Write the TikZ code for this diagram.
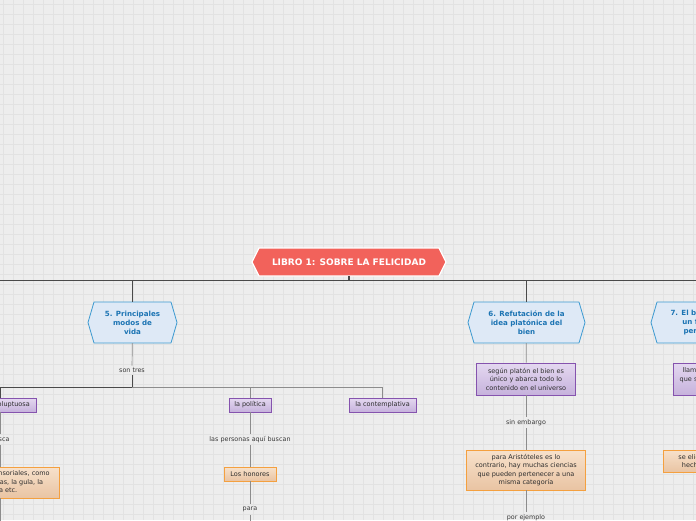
\documentclass[tikz,border=0pt]{standalone}
\usepackage{fontspec}
\setmainfont{DejaVu Sans}
\definecolor{bgc}{HTML}{EDEDED}
\definecolor{gridc}{HTML}{E2E2E2}
\definecolor{rootred}{HTML}{F2625B}
\definecolor{hexfill}{HTML}{DEE9F6}
\definecolor{hexborder}{HTML}{3D9AD1}
\definecolor{hextext}{HTML}{1C74B3}
\definecolor{purpletop}{HTML}{E4D8F0}
\definecolor{purplebot}{HTML}{C6B2DC}
\definecolor{purpleborder}{HTML}{8553AE}
\definecolor{orangetop}{HTML}{F7E1CB}
\definecolor{orangebot}{HTML}{E9C4A3}
\definecolor{orangeborder}{HTML}{F4A03F}
\definecolor{boxtext}{HTML}{2E2E2E}
\definecolor{lbltext}{HTML}{3A3A3A}
\definecolor{darkline}{HTML}{4A4A4A}
\definecolor{conngray}{HTML}{8C8C8C}
\tikzset{
  lbl/.style={font=\fontsize{6.4}{7}\selectfont, text=lbltext, inner sep=2.5pt},
  boxfont/.style={font=\fontsize{6.5}{8.5}\selectfont, text=boxtext, align=center, inner sep=0pt},
  pbox/.style={boxfont, draw=purpleborder, line width=0.8pt, top color=purpletop, bottom color=purplebot},
  obox/.style={boxfont, draw=orangeborder, line width=0.8pt, top color=orangetop, bottom color=orangebot},
  hexshape/.style={draw=hexborder, fill=hexfill, line width=0.8pt, line join=round},
  hexlabel/.style={font=\bfseries\fontsize{7.1}{9}\selectfont, text=hextext, align=center, inner sep=0pt},
  rootshape/.style={draw=white, fill=rootred, line width=1.2pt, line join=round},
  rootlabel/.style={font=\bfseries\fontsize{9}{10}\selectfont, text=white, align=center, inner sep=0pt},
  conn/.style={draw=conngray, line width=0.7pt},
  mainconn/.style={draw=darkline, line width=0.8pt},
}
% name, x, y, halfwidth, halfheight, inset, shape style, text style, text
\newcommand{\hexnode}[9]{%
  \path[#7] (#2-#4,#3) -- (#2-#4+#6,#3-#5) -- (#2+#4-#6,#3-#5) -- (#2+#4,#3)
    -- (#2+#4-#6,#3+#5) -- (#2-#4+#6,#3+#5) -- cycle;
  \node[#8, minimum width=2*#4 pt, minimum height=2*#5 pt] (#1) at (#2,#3) {#9};
}
\begin{document}
\begin{tikzpicture}[x=1pt,y=-1pt]
\useasboundingbox (0,0) rectangle (696,520);
\clip (0,0) rectangle (696,520);
\fill[bgc] (0,0) rectangle (696,520);
\foreach \i in {0,...,69} \draw[gridc, line width=0.6pt] (\i*10+3,0) -- (\i*10+3,520);
\foreach \j in {0,...,51} \draw[gridc, line width=0.6pt] (0,\j*10+4) -- (696,\j*10+4);

% main bus
\coordinate (mainL) at (-5,280);
\coordinate (mainR) at (701,280);
\coordinate (mainC) at (349,280);
\draw[mainconn] (mainL) -- (mainR);

% root
\hexnode{root}{349}{262}{97}{14}{7}{rootshape}{rootlabel}{LIBRO 1: SOBRE LA FELICIDAD}
\draw[darkline, line width=1.4pt] (root) -- (mainC);

% branch 5
\hexnode{n5}{132.5}{322.5}{44.5}{20.5}{6}{hexshape}{hexlabel}{5. Principales\\modos de\\vida}
\draw[mainconn] (n5) -- (n5 |- mainC);
\node[lbl] (st) at (132,370.5) {son tres};
\coordinate (bus5) at (132,387);
\draw[conn] (n5) -- (st);
\draw[mainconn] (st) -- (bus5);
\node[pbox, minimum width=72pt, minimum height=14pt] (vol) at (0,405) {la vida voluptuosa};
\node[pbox, minimum width=42pt, minimum height=14pt] (pol) at (250,405) {la política};
\node[pbox, minimum width=67pt, minimum height=14pt] (cont) at (382.5,405) {la contemplativa};
\draw[mainconn] (vol) |- (bus5);
\draw[conn] (bus5) -| (pol);
\draw[conn] (bus5) -| (cont);

\node[lbl] (busca) at (0,439.5) {busca};
\node[obox, minimum width=118pt, minimum height=31pt] (sens) at (0,482.5) {los placeres sensoriales, como\\las borracheras, la gula, la\\lujuria etc.};
\coordinate (botL) at (0,530);
\draw[conn] (vol) -- (busca);
\draw[conn] (busca) -- (sens);
\draw[conn] (sens) -- (botL);

\node[lbl] (lpab) at (250,439.5) {las personas aquí buscan};
\node[obox, minimum width=52pt, minimum height=14pt] (hon) at (250,474) {Los honores};
\node[lbl] (para) at (250,509.5) {para};
\coordinate (botP) at (250,530);
\draw[conn] (pol) -- (lpab);
\draw[conn] (lpab) -- (hon);
\draw[conn] (hon) -- (para);
\draw[conn] (para) -- (botP);

% branch 6
\hexnode{n6}{526.5}{322.5}{58.5}{20.5}{6}{hexshape}{hexlabel}{6. Refutación de la\\idea platónica del\\bien}
\draw[mainconn] (n6) -- (n6 |- mainC);
\node[pbox, minimum width=99pt, minimum height=32pt] (p6) at (526,379) {según platón el bien es\\único y abarca todo lo\\contenido en el universo};
\node[lbl] (se) at (526,422.5) {sin embargo};
\node[obox, minimum width=119pt, minimum height=40pt] (o6) at (526,470) {para Aristóteles es lo\\contrario, hay muchas ciencias\\que pueden pertenecer a una\\misma categoría};
\node[lbl] (pe) at (526,517.5) {por ejemplo};
\coordinate (bot6) at (526,535);
\draw[conn] (n6) -- (p6);
\draw[conn] (p6) -- (se);
\draw[conn] (se) -- (o6);
\draw[conn] (o6) -- (pe);
\draw[conn] (pe) -- (bot6);

% branch 7
\hexnode{n7}{714}{322.5}{63}{20.5}{6}{hexshape}{hexlabel}{7. El bien supremo es\\un fin último, el\\perfecto y final}
\draw[mainconn] (n7) -- (n7 |- mainC);
\node[pbox, minimum width=94pt, minimum height=32pt] (p7) at (720,379) {llamamos perfecto a lo\\que se elige siempre por\\sí mismo};
\node[obox, minimum width=128pt, minimum height=22pt] (o7) at (727,461) {se elige por sí mismo y nunca\\hecho en vista de otra cosa};
\draw[conn] (n7) -- (p7);
\end{tikzpicture}
\end{document}
